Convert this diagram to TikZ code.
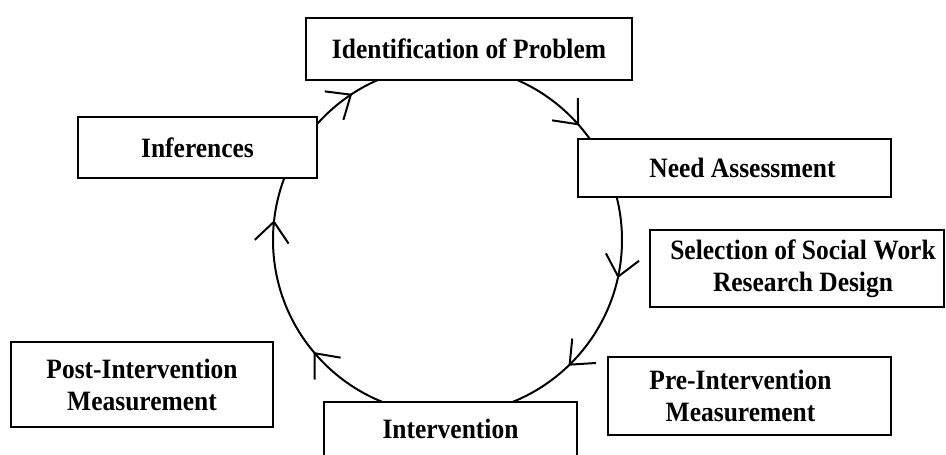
\documentclass[tikz,border=0pt]{standalone}
\usepackage{fontspec}
\newfontfamily\boxfont{Liberation Serif}[FakeStretch=0.91]
\usetikzlibrary{arrows.meta,decorations.markings}

\begin{document}
\begin{tikzpicture}[x=1pt,y=-1pt,
    stagebox/.style={draw, line width=2pt, fill=white, align=center, inner sep=0pt,
        font={\boxfont\bfseries\fontsize{28}{32}\selectfont}},
    flowtip/.tip={Straight Barb[length=20pt,width=34pt]}]

% Canvas in pixel units (946 x 455), y running downwards
\useasboundingbox (0,0) rectangle (946,455);
\clip (0,0) rectangle (946,455);

% Centre and radius of the cycle
\coordinate (ringCenter) at (447.5,240);
\def\ringradius{174.5}

% --- The cycle, clockwise, with open arrowheads ---
\draw[line width=2pt, postaction={decorate},
    decoration={markings,
        mark=at position 0.035 with {\arrow[line width=2pt]{flowtip}},
        mark=at position 0.128 with {\arrow[line width=2pt]{flowtip}},
        mark=at position 0.389 with {\arrow[line width=2pt]{flowtip}},
        mark=at position 0.518 with {\arrow[line width=2pt]{flowtip}},
        mark=at position 0.658 with {\arrow[line width=2pt]{flowtip}},
        mark=at position 0.886 with {\arrow[line width=2pt]{flowtip}}}]
    (ringCenter) ++(0:\ringradius) arc[start angle=0, end angle=360, radius=\ringradius];

% --- Stages ---
\node[stagebox, minimum width=326pt, minimum height=62pt] (identification) at (469,49)
    {Identification of Problem};
\node[stagebox, minimum width=313pt, minimum height=58pt] (needAssessment) at (734.5,168)
    {\hspace*{16pt}Need Assessment};
\node[stagebox, minimum width=294pt, minimum height=77pt] (selection) at (797,268.5)
    {\hspace*{12pt}Selection of Social Work\\\hspace*{12pt}Research Design};
\node[stagebox, minimum width=283pt, minimum height=78pt] (preMeasure) at (749.5,396)
    {Pre-Intervention\hspace*{18pt}\\Measurement\hspace*{18pt}};
\node[stagebox, minimum width=253pt, text height=36pt, text depth=30pt, anchor=north]
    (intervention) at (450.5,401) {Intervention};
\node[stagebox, minimum width=262pt, minimum height=85pt] (postMeasure) at (142,384.5)
    {Post-Intervention\\Measurement};
\node[stagebox, minimum width=239pt, minimum height=61pt] (inferences) at (197.5,147.5)
    {Inferences};

\end{tikzpicture}
\end{document}
